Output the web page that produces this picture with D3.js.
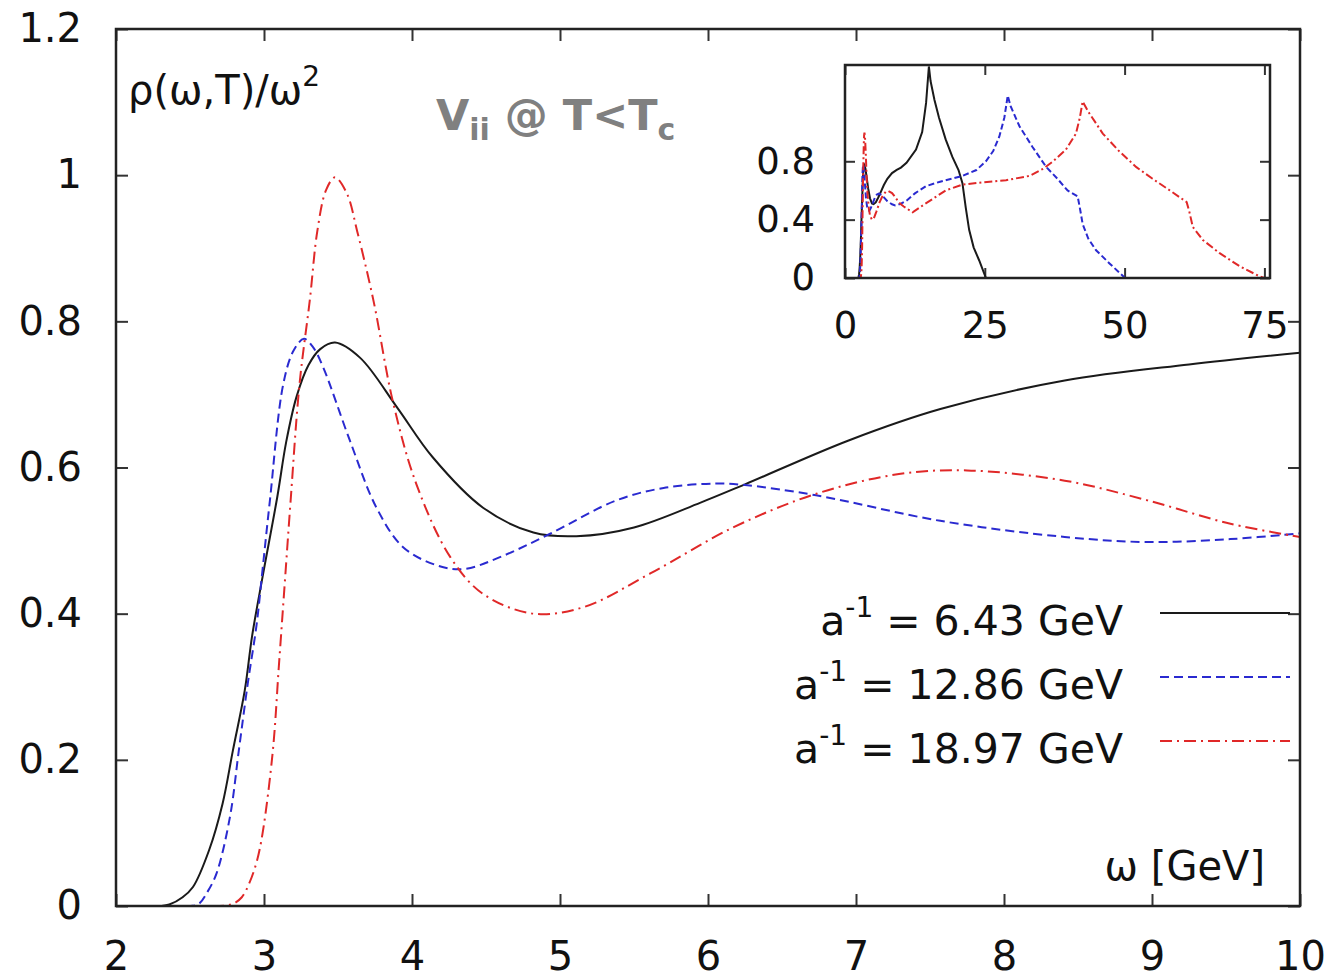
<!DOCTYPE html>
<meta charset="utf-8">
<style>
body { margin: 0; background: #fff; }
text { font-family: "DejaVu Sans", sans-serif; fill: #111; }
.main .tick text { font-size: 40px; }
.inset .tick text { font-size: 37px; }
.tick line { stroke: #333; stroke-width: 2px; }
</style>
<svg width="1337" height="979"></svg>
<script src="https://d3js.org/d3.v7.min.js"></script>
<script>
// main panel, omega 2..10 GeV
var blackMain = [[2,0],[2.3,0],[2.36,0.002],[2.45,0.012],[2.52,0.026],[2.63,0.077],[2.72,0.14],[2.79,0.213],[2.87,0.295],[2.92,0.37],[2.99,0.45],[3.09,0.56],[3.15,0.635],[3.22,0.697],[3.3,0.74],[3.38,0.762],[3.48,0.771],[3.65,0.75],[3.9,0.682],[4.14,0.614],[4.48,0.545],[4.82,0.511],[5.11,0.506],[5.5,0.518],[5.95,0.552],[6.25,0.577],[6.95,0.637],[7.57,0.68],[8.41,0.719],[9.25,0.741],[10,0.757]];
var blueMain = [[2,0],[2.5,0],[2.56,0.003],[2.62,0.02],[2.68,0.045],[2.77,0.122],[2.83,0.213],[2.89,0.304],[2.95,0.385],[2.99,0.46],[3.04,0.555],[3.13,0.714],[3.2,0.76],[3.27,0.776],[3.33,0.765],[3.4,0.737],[3.58,0.637],[3.76,0.545],[3.94,0.491],[4.17,0.466],[4.35,0.461],[4.59,0.477],[4.93,0.509],[5.38,0.555],[5.7,0.572],[6.05,0.578],[6.25,0.576],[6.73,0.562],[7.57,0.527],[8.41,0.505],[8.97,0.498],[9.53,0.502],[10,0.51]];
var redMain = [[2,0],[2.7,0],[2.79,0.003],[2.85,0.012],[2.9,0.031],[2.95,0.06],[2.99,0.099],[3.06,0.213],[3.1,0.327],[3.14,0.441],[3.18,0.555],[3.24,0.714],[3.31,0.83],[3.36,0.923],[3.42,0.98],[3.48,0.997],[3.56,0.975],[3.63,0.923],[3.74,0.828],[3.87,0.691],[4.03,0.577],[4.26,0.477],[4.48,0.427],[4.82,0.4],[5.16,0.409],[5.61,0.455],[6.17,0.518],[6.73,0.564],[7.29,0.591],[7.75,0.596],[8.41,0.582],[8.97,0.555],[9.53,0.523],[10,0.505]];

// inset continues the same curves out to the cut-off
var blackTail = [[11,0.79],[12.7,0.88],[13.8,1.0],[14.5,1.2],[15,1.45],[15.3,1.35],[16,1.22],[16.8,1.1],[18,0.95],[19.2,0.83],[20.3,0.74],[21,0.65],[21.6,0.48],[22.2,0.33],[23,0.21],[24,0.12],[25.2,0]];
var blueTail = [[11,0.53],[12.5,0.58],[14.5,0.63],[17,0.66],[21,0.7],[23.5,0.74],[25.2,0.8],[26.5,0.87],[27.6,0.97],[28.5,1.1],[29.1,1.25],[29.6,1.18],[31.2,1.04],[33.5,0.9],[36,0.76],[38,0.68],[39.8,0.6],[41.6,0.56],[42,0.48],[42.5,0.37],[43.5,0.27],[44.9,0.19],[47.3,0.1],[49.8,0.01],[50,0]];
var redTail = [[10.5,0.49],[12.1,0.45],[14,0.5],[16,0.55],[18,0.6],[21,0.64],[24.5,0.655],[28.8,0.67],[33,0.7],[35.5,0.75],[37.2,0.8],[39.5,0.88],[41.3,0.99],[42,1.1],[42.5,1.21],[43.5,1.14],[46.1,0.99],[49,0.87],[52.1,0.76],[55,0.68],[58.1,0.6],[61.1,0.52],[61.6,0.45],[62.2,0.35],[64,0.26],[67,0.17],[70.6,0.08],[74.2,0.01],[75,0]];

var legendLabels = [["6.43"], ["12.86"], ["18.97"]];
var xTicks = [2,3,4,5,6,7,8,9,10];
var yTicks = [0,0.2,0.4,0.6,0.8,1,1.2];
var insetXTicks = [0,25,50,75];
var insetYTicks = [0,0.4,0.8];

var styles = [
  {color: "#1a1a1a", dash: null},
  {color: "#2a2ad0", dash: "9,5"},
  {color: "#e02828", dash: "12,5,2,5"}
];

var svg = d3.select("svg");

var x = d3.scaleLinear().domain([2,10]).range([116,1300]);
var y = d3.scaleLinear().domain([0,1.2]).range([906,29]);

var main = svg.append("g").attr("class", "main");

main.append("clipPath").attr("id", "clipMain")
  .append("rect").attr("x", 116).attr("y", 29).attr("width", 1184).attr("height", 877);

// ticks all round, pointing in
main.append("g").attr("transform", "translate(0,906)")
  .call(d3.axisBottom(x).tickValues(xTicks).tickSizeInner(-12).tickSizeOuter(0).tickPadding(36).tickFormat(d3.format("d")))
  .call(g => g.select(".domain").remove());
main.append("g").attr("transform", "translate(0,29)")
  .call(d3.axisTop(x).tickValues(xTicks).tickSizeInner(-12).tickSizeOuter(0).tickFormat(""))
  .call(g => g.select(".domain").remove());
main.append("g").attr("transform", "translate(116,0)")
  .call(d3.axisLeft(y).tickValues(yTicks).tickSizeInner(-12).tickSizeOuter(0).tickPadding(34).tickFormat(d => String(d)))
  .call(g => g.select(".domain").remove());
main.append("g").attr("transform", "translate(1300,0)")
  .call(d3.axisRight(y).tickValues(yTicks).tickSizeInner(-12).tickSizeOuter(0).tickFormat(""))
  .call(g => g.select(".domain").remove());
main.selectAll(".tick text").attr("fill", "#111").attr("font-family", null);

var line = d3.line().x(d => x(d[0])).y(d => y(d[1])).curve(d3.curveCatmullRom.alpha(0.5));

main.append("g").attr("clip-path", "url(#clipMain)")
  .selectAll("path")
  .data([blackMain, blueMain, redMain])
  .enter().append("path")
    .attr("d", line)
    .attr("fill", "none")
    .attr("stroke", (d,i) => styles[i].color)
    .attr("stroke-width", 2)
    .attr("stroke-dasharray", (d,i) => styles[i].dash);

main.append("rect")
  .attr("x", 116).attr("y", 29).attr("width", 1184).attr("height", 877)
  .attr("fill", "none").attr("stroke", "#222").attr("stroke-width", 2.5);

// y label
var yl = svg.append("text").attr("x", 128).attr("y", 104).attr("font-size", 40).text("ρ(ω,T)/ω");
yl.append("tspan").attr("dy", -18).attr("font-size", 28).text("2");

// x label
svg.append("text").attr("x", 1265).attr("y", 880).attr("font-size", 40)
  .attr("text-anchor", "end").text("ω [GeV]");

// V_ii @ T<T_c
var tt = svg.append("text").attr("x", 436).attr("y", 130)
  .attr("font-size", 43).attr("font-weight", "bold").style("fill", "#808080");
tt.append("tspan").text("V");
tt.append("tspan").attr("dy", 10).attr("font-size", 30).text("ii");
tt.append("tspan").attr("dy", -10).text(" @ T<T");
tt.append("tspan").attr("dy", 10).attr("font-size", 30).text("c");

// legend
var leg = svg.append("g").selectAll("g")
  .data(legendLabels)
  .enter().append("g")
    .attr("transform", (d,i) => "translate(0," + (635 + i*64) + ")");
var lt = leg.append("text").attr("x", 1123).attr("font-size", 41).attr("text-anchor", "end");
lt.append("tspan").text("a");
lt.append("tspan").attr("dy", -18).attr("font-size", 28).text("-1");
lt.append("tspan").attr("dy", 18).text(d => " = " + d[0] + " GeV");
leg.append("line")
  .attr("x1", 1160).attr("x2", 1290).attr("y1", -22).attr("y2", -22)
  .attr("stroke", (d,i) => styles[i].color)
  .attr("stroke-width", 2)
  .attr("stroke-dasharray", (d,i) => styles[i].dash);

// inset
var xi = d3.scaleLinear().domain([0,76]).range([845,1270]);
var yi = d3.scaleLinear().domain([0,1.46]).range([278,65]);
var inset = svg.append("g").attr("class", "inset");

inset.append("rect").attr("x", 845).attr("y", 65).attr("width", 425).attr("height", 213).attr("fill", "#fff");
inset.append("clipPath").attr("id", "clipInset")
  .append("rect").attr("x", 845).attr("y", 65).attr("width", 425).attr("height", 213);

inset.append("g").attr("transform", "translate(0,278)")
  .call(d3.axisBottom(xi).tickValues(insetXTicks).tickSizeInner(-10).tickSizeOuter(0).tickPadding(34))
  .call(g => g.select(".domain").remove());
inset.append("g").attr("transform", "translate(0,65)")
  .call(d3.axisTop(xi).tickValues(insetXTicks).tickSizeInner(-10).tickSizeOuter(0).tickFormat(""))
  .call(g => g.select(".domain").remove());
inset.append("g").attr("transform", "translate(845,0)")
  .call(d3.axisLeft(yi).tickValues(insetYTicks).tickSizeInner(-10).tickSizeOuter(0).tickPadding(30).tickFormat(d => String(d)))
  .call(g => g.select(".domain").remove());
inset.append("g").attr("transform", "translate(1270,0)")
  .call(d3.axisRight(yi).tickValues(insetYTicks).tickSizeInner(-10).tickSizeOuter(0).tickFormat(""))
  .call(g => g.select(".domain").remove());
inset.selectAll(".tick text").attr("fill", "#111").attr("font-family", null);

var lineI = d3.line().x(d => xi(d[0])).y(d => yi(d[1]));

inset.append("g").attr("clip-path", "url(#clipInset)")
  .selectAll("path")
  .data([blackMain.concat(blackTail), blueMain.concat(blueTail), redMain.concat(redTail)])
  .enter().append("path")
    .attr("d", lineI)
    .attr("fill", "none")
    .attr("stroke", (d,i) => styles[i].color)
    .attr("stroke-width", 2)
    .attr("stroke-dasharray", (d,i) => i == 0 ? null : (i == 1 ? "6,3" : "8,3,2,3"));

inset.append("rect")
  .attr("x", 845).attr("y", 65).attr("width", 425).attr("height", 213)
  .attr("fill", "none").attr("stroke", "#222").attr("stroke-width", 2.5);
</script>
